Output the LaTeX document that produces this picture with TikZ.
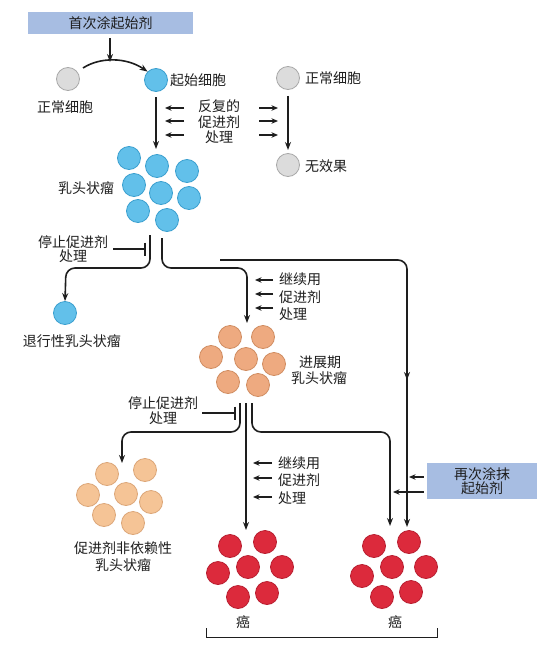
\documentclass[tikz,border=0pt]{standalone}
\usepackage{fontspec}
\setmainfont{Noto Sans CJK SC}
\usetikzlibrary{arrows.meta}
\definecolor{boxblue}{HTML}{A7BDE2}
\definecolor{cbfill}{HTML}{62C0EA}\definecolor{cbdraw}{HTML}{3A9FCF}
\definecolor{cgfill}{HTML}{DCDCDC}\definecolor{cgdraw}{HTML}{A8A8A8}
\definecolor{cofill}{HTML}{EEAA80}\definecolor{codraw}{HTML}{D08C60}
\definecolor{cpfill}{HTML}{F5C496}\definecolor{cpdraw}{HTML}{DCA678}
\definecolor{crfill}{HTML}{DC2A3C}\definecolor{crdraw}{HTML}{B81E30}
\definecolor{ink}{HTML}{1E1E1E}
\tikzset{
  cell/.style={circle,inner sep=0pt,minimum size=23pt,line width=0.8pt},
  cellb/.style={cell,fill=cbfill,draw=cbdraw},
  cellg/.style={cell,fill=cgfill,draw=cgdraw},
  cello/.style={cell,fill=cofill,draw=codraw},
  cellp/.style={cell,fill=cpfill,draw=cpdraw},
  cellr/.style={cell,fill=crfill,draw=crdraw},
  lbl/.style={inner sep=0pt,text=ink,font=\fontsize{14}{15}\selectfont},
  arr/.style={draw=ink,line width=1.6pt,-{Stealth[length=8pt,width=6pt]}},
  sarr/.style={draw=ink,line width=1.6pt,-{Stealth[length=6.5pt,width=5.5pt]}},
  stopl/.style={draw=ink,line width=1.6pt,-{Bar[width=13pt,line width=1.6pt]}},
  ibox/.style={fill=boxblue,inner sep=0pt,text=ink,font=\fontsize{14}{14.5}\selectfont,align=center}
}
\begin{document}
\begin{tikzpicture}[x=1pt,y=-1pt]
\fill[white] (0,0) rectangle (559,645);
\useasboundingbox (0,0) rectangle (559,645);

% top box
\node[ibox,minimum width=165pt,minimum height=22pt] (b1) at (110.5,23) {首次涂起始剂};
\coordinate (t1) at (110,62);
\draw[arr] (b1.south -| t1) ++(0,4) -- (t1);

% normal -> initiated
\node[cellg] (n1) at (68,79) {};
\node[lbl] (n1l) at (65,107) {正常细胞};
\node[cellb] (i1) at (156,80) {};
\node[lbl,anchor=west] (i1l) at (170,80) {起始细胞};
\draw[arr] (83,68) .. controls (100,57) and (126,57) .. (i1.north west);

% right normal cell
\node[cellg] (n2) at (288,78) {};
\node[lbl,anchor=west] (n2l) at (305,78) {正常细胞};
\node[cellg] (n3) at (288,165) {};
\node[lbl,anchor=west] (n3l) at (305,166) {无效果};
\coordinate (a2) at (288,150);
\draw[arr] (n2.south) ++(0,6) -- (a2);

% repeated promoter text
\node[lbl] (r1) at (219,106) {反复的};
\node[lbl] (r2) at (219,122) {促进剂};
\node[lbl] (r3) at (219,137) {处理};
\foreach \yy in {108,121,135}{
  \draw[sarr] (184,\yy) -- (165,\yy);
  \draw[sarr] (259,\yy) -- (278,\yy);
}

% papilloma cluster
\node[cellb] (p1) at (129,158) {};
\node[cellb] (p2) at (157,166) {};
\node[cellb] (p3) at (187,171) {};
\node[cellb] (p4) at (134,185) {};
\node[cellb] (p5) at (161,193) {};
\node[cellb] (p6) at (189,198) {};
\node[cellb] (p7) at (138,211) {};
\node[cellb] (p8) at (167,220) {};
\node[lbl] (pl) at (86,188) {乳头状瘤};
\coordinate (a1) at (156,149);
\draw[arr] (156,97) -- (a1);

% stop promoter 1
\node[lbl] (s1a) at (73,242) {停止促进剂};
\node[lbl] (s1b) at (73,256) {处理};
\draw[stopl] (113,249) -- (146,249);

% regressed papilloma
\node[cellb] (rg) at (65,313) {};
\node[lbl] (rgl) at (72,341) {退行性乳头状瘤};
\draw[arr,rounded corners=9pt] (150,235) -- (150,268) -- (66,268) -- (rg.north);

% continue to advanced papilloma
\node[cello] (q1) at (230,337) {};
\node[cello] (q2) at (263,337) {};
\node[cello] (q3) at (211,357) {};
\node[cello] (q4) at (246,359) {};
\node[cello] (q5) at (274,364) {};
\node[cello] (q6) at (228,382) {};
\node[cello] (q7) at (258,385) {};
\node[lbl] (ql1) at (320,362) {进展期};
\node[lbl] (ql2) at (319,378) {乳头状瘤};
\coordinate (a3) at (247,323);
\draw[arr,rounded corners=9pt] (162,238) -- (162,268) -- (247,268) -- (a3);

\node[lbl,anchor=west] (c1a) at (279,279) {继续用};
\node[lbl,anchor=west] (c1b) at (279,297) {促进剂};
\node[lbl,anchor=west] (c1c) at (279,314) {处理};
\foreach \yy in {280,294,308}{
  \draw[sarr] (273,\yy) -- (255,\yy);
}

% long right path
\coordinate (m1) at (407,380);
\coordinate (e2) at (407,527);
\draw[arr,rounded corners=9pt] (220,260) -- (407,260) -- (m1);
\draw[arr] (407,377) -- (e2);

% stop promoter 2
\node[lbl] (s2a) at (163,403) {停止促进剂};
\node[lbl] (s2b) at (163,418) {处理};
\draw[stopl] (202,413) -- (236,413);

% promoter-independent papilloma
\node[cellp] (u1) at (107,474) {};
\node[cellp] (u2) at (145,470) {};
\node[cellp] (u3) at (88,495) {};
\node[cellp] (u4) at (126,494) {};
\node[cellp] (u5) at (151,502) {};
\node[cellp] (u6) at (104,515) {};
\node[cellp] (u7) at (133,523) {};
\node[lbl] (ul1) at (123,548) {促进剂非依赖性};
\node[lbl] (ul2) at (123,565) {乳头状瘤};
\coordinate (a4) at (122,463);
\draw[arr,rounded corners=9pt] (240,403) -- (240,432) -- (122,432) -- (a4);

% cancer 1
\node[cellr] (k1) at (230,546) {};
\node[cellr] (k2) at (265,542) {};
\node[cellr] (k3) at (218,573) {};
\node[cellr] (k4) at (248,567) {};
\node[cellr] (k5) at (282,567) {};
\node[cellr] (k6) at (238,597) {};
\node[cellr] (k7) at (267,593) {};
\node[lbl] (kl1) at (243,622) {癌};
\coordinate (a5) at (246,530);
\draw[arr] (246,403) -- (a5);

\node[lbl,anchor=west] (c2a) at (278,463) {继续用};
\node[lbl,anchor=west] (c2b) at (278,480) {促进剂};
\node[lbl,anchor=west] (c2c) at (278,498) {处理};
\foreach \yy in {463,478,497}{
  \draw[sarr] (272,\yy) -- (253,\yy);
}

% cancer 2
\node[cellr] (h1) at (374,546) {};
\node[cellr] (h2) at (409,542) {};
\node[cellr] (h3) at (362,576) {};
\node[cellr] (h4) at (392,567) {};
\node[cellr] (h5) at (426,567) {};
\node[cellr] (h6) at (382,597) {};
\node[cellr] (h7) at (411,592) {};
\node[lbl] (hl1) at (395,622) {癌};
\coordinate (a6) at (390,526);
\draw[arr,rounded corners=9pt] (252,403) -- (252,432) -- (390,432) -- (a6);

% second initiator box
\node[ibox,minimum width=110pt,minimum height=36pt] (b2) at (482,481) {再次涂抹\\起始剂};
\coordinate (x1) at (409,477);
\coordinate (x2) at (393,492);
\draw[sarr] (b2.west |- x1) ++(-3,0) -- (x1);
\draw[sarr] (b2.west |- x2) ++(-3,0) -- (x2);

% bracket
\draw[draw=ink,line width=0.9pt] (206,628) -- (206,637) -- (437,637) -- (437,628);
\end{tikzpicture}
\end{document}
